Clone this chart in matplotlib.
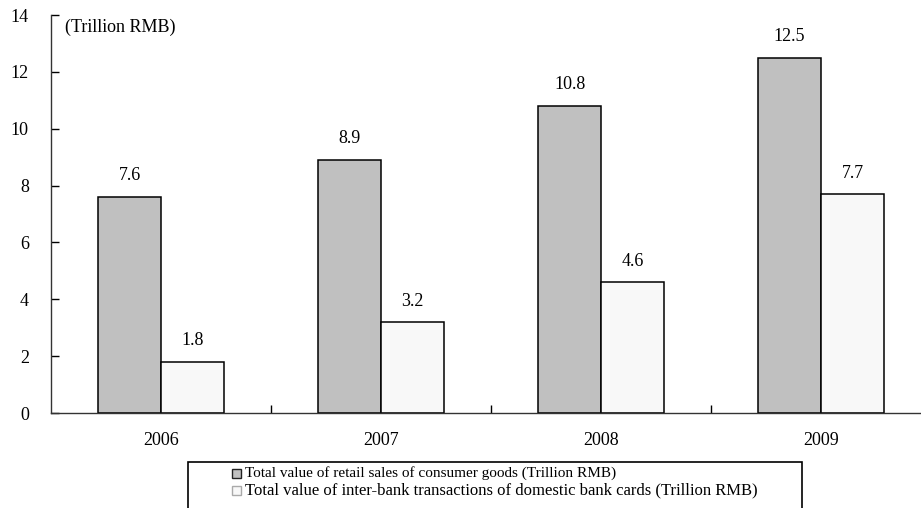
import matplotlib
matplotlib.use("Agg")
import matplotlib.pyplot as plt
from matplotlib.patches import Rectangle
import numpy as np

plt.rcParams['font.family'] = ['Liberation Serif', 'DejaVu Serif']

years = ["2006", "2007", "2008", "2009"]
retail_sales = [7.6, 8.9, 10.8, 12.5]
bank_card_tx = [1.8, 3.2, 4.6, 7.7]
series_names = [
    "Total value of retail sales of consumer goods (Trillion RMB)",
    "Total value of inter-bank transactions of domestic bank cards (Trillion RMB)",
]
colors = ["#C0C0C0", "#F8F8F8"]

W, H = 921, 508
fig = plt.figure(figsize=(W / 100, H / 100), dpi=100)
ax = fig.add_axes([51 / W, 1 - 413 / H, (931 - 51) / W, (413 - 15) / H])

x = np.arange(len(years))
bw = 0.286
b1 = ax.bar(x - bw / 2, retail_sales, bw, color=colors[0], edgecolor="black", linewidth=1.1)
b2 = ax.bar(x + bw / 2, bank_card_tx, bw, color=colors[1], edgecolor="black", linewidth=1.1)

for bars, vals in ((b1, retail_sales), (b2, bank_card_tx)):
    for rect, v in zip(bars, vals):
        ax.annotate(f"{v:.1f}", (rect.get_x() + rect.get_width() / 2, v),
                    xytext=(0, 9), textcoords="offset points",
                    ha="center", va="bottom", fontsize=13)

ax.set_xlim(-0.5, len(years) - 0.5)
ax.set_ylim(0, 14)
ax.set_yticks(np.arange(0, 15, 2))
ax.set_xticks(x)
ax.set_xticklabels(years)
ax.set_xticks(np.arange(0.5, len(years) - 0.5, 1), minor=True)
ax.tick_params(axis="x", which="major", length=0, pad=14, labelsize=13)
ax.tick_params(axis="x", which="minor", direction="in", length=6, width=1)
ax.tick_params(axis="y", direction="in", length=6, width=1, pad=16, labelsize=13)
for s in ("top", "right"):
    ax.spines[s].set_visible(False)
for s in ("left", "bottom"):
    ax.spines[s].set_linewidth(1.0)
    ax.spines[s].set_color("#333333")

ax.text(65 / W, 1 - 27 / H, "(Trillion RMB)", transform=fig.transFigure,
        ha="left", va="center", fontsize=13)

# Legend box, running off the bottom edge
fig.patches.append(Rectangle((188 / W, -0.02), (802 - 188) / W, (508 - 462) / H + 0.02,
                             transform=fig.transFigure, facecolor="none",
                             edgecolor="black", linewidth=1.2))
legend_rows = [
    (473, colors[0], "#222222", 11),
    (490, colors[1], "#AAAAAA", 12),
]
for (yc, fc, ec, fs), name in zip(legend_rows, series_names):
    fig.patches.append(Rectangle((232 / W, 1 - (yc + 4.5) / H), 9 / W, 9 / H,
                                 transform=fig.transFigure, facecolor=fc,
                                 edgecolor=ec, linewidth=1.0))
    fig.text(245 / W, 1 - yc / H, name, ha="left", va="center", fontsize=fs)

fig.savefig("out.png", dpi=100)
